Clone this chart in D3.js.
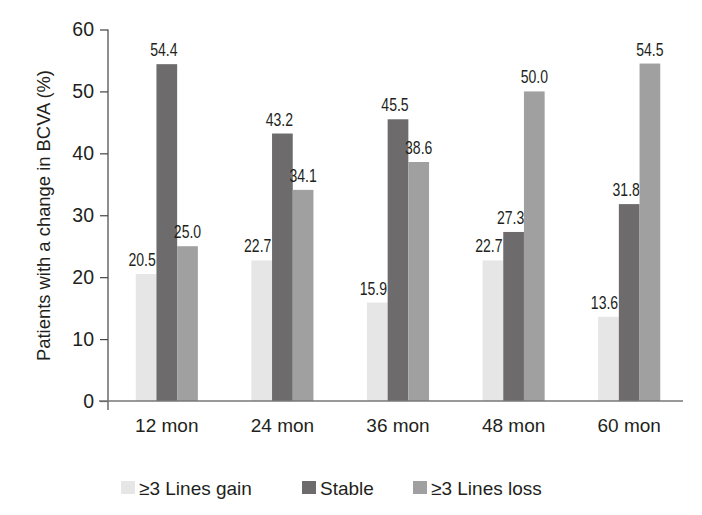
<!DOCTYPE html>
<html><head><meta charset="utf-8">
<script src="https://cdn.jsdelivr.net/npm/d3@7"></script>
<style>body{margin:0;background:#fff}</style>
</head><body>
<svg id="c" width="702" height="515"></svg>
<script>
const categories = ["12 mon","24 mon","36 mon","48 mon","60 mon"];
const seriesNames = ["\u22653 Lines gain","Stable","\u22653 Lines loss"];
const gain = [20.5,22.7,15.9,22.7,13.6];
const stable = [54.4,43.2,45.5,27.3,31.8];
const loss = [25.0,34.1,38.6,50.0,54.5];
const yTicks = [0,10,20,30,40,50,60];
const colors = ["#e6e6e6","#6d6b6c","#a0a0a0"];
const series = [gain, stable, loss];

const svg = d3.select("#c");
const txt = "#231f20";
const FONT = "'Liberation Sans',Arial,Helvetica,sans-serif";
const y = d3.scaleLinear().domain([0,60]).range([401,29.5]);
const x = d3.scaleBand().domain(categories).range([109,687]).padding(0);
const barW = 20.7;
const xs = d3.scaleBand().domain([0,1,2]).range([-barW*1.5, barW*1.5]).padding(0);
const labelShift = [-4,-3,0];

// bars
categories.forEach((c,i)=>{
  const cx = x(c) + x.bandwidth()/2;
  series.forEach((s,j)=>{
    svg.append("rect")
      .attr("x", cx + xs(j)).attr("width", xs.bandwidth())
      .attr("y", y(s[i])).attr("height", y(0)-y(s[i]))
      .attr("fill", colors[j]);
    const lx = cx + xs(j) + xs.bandwidth()/2 + labelShift[j];
    svg.append("text")
      .attr("transform", `translate(${lx},${y(s[i]) - 8}) scale(0.78,1)`)
      .attr("text-anchor","middle")
      .attr("font-family",FONT)
      .attr("font-size",18).attr("fill",txt)
      .text(s[i].toFixed(1));
  });
});

// y axis
const ya = svg.append("g").attr("transform","translate(108,0)")
  .call(d3.axisLeft(y).tickValues(yTicks).tickSize(8).tickPadding(6).tickFormat(d3.format("d")));
ya.select(".domain").remove();
ya.append("line").attr("x1",0).attr("x2",0).attr("y1",y(60)).attr("y2",410).attr("stroke","#444").attr("stroke-width",1.2);
ya.selectAll(".tick line").attr("stroke","#444").attr("stroke-width",1.2);
ya.selectAll(".tick text").attr("font-family",FONT).attr("font-size",19.5).attr("fill",txt);

// x baseline
svg.append("line").attr("x1",99).attr("x2",683).attr("y1",y(0)).attr("y2",y(0)).attr("stroke","#777").attr("stroke-width",1.5);

// x labels
const xa = svg.append("g").attr("transform",`translate(0,${y(0)})`)
  .call(d3.axisBottom(x).tickSize(0).tickPadding(18));
xa.select(".domain").remove();
xa.selectAll(".tick text").attr("font-family",FONT).attr("font-size",19).attr("fill",txt);

// y title
svg.append("text")
  .attr("transform","translate(50,215.5) rotate(-90)")
  .attr("text-anchor","middle")
  .attr("font-family",FONT).attr("font-size",18.4).attr("fill",txt)
  .text("Patients with a change in BCVA (%)");

// legend
const legX = [121, 302, 413];
seriesNames.forEach((n,j)=>{
  svg.append("rect").attr("x",legX[j]).attr("y",481).attr("width",14).attr("height",13).attr("fill",colors[j]);
  svg.append("text").attr("x",legX[j]+18).attr("y",495)
    .attr("font-family",FONT).attr("font-size",19).attr("fill",txt)
    .text(n);
});
</script>
</body></html>
